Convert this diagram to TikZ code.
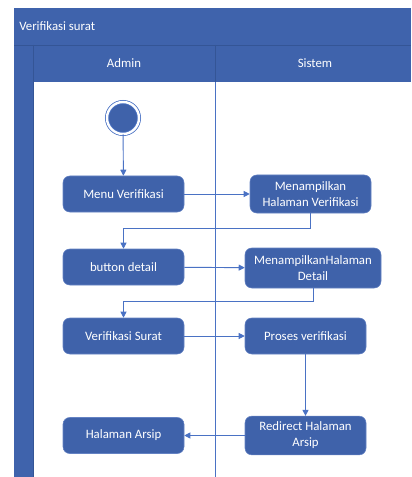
\documentclass[tikz,border=0pt]{standalone}
\usepackage{fontspec}
\setmainfont{Carlito}
\definecolor{laneblue}{RGB}{63,99,172}
\definecolor{lanedark}{RGB}{52,85,150}
\definecolor{actblue}{RGB}{63,98,170}
\definecolor{actedge}{RGB}{100,130,195}
\definecolor{flowblue}{RGB}{74,114,196}
\tikzset{
  act/.style={draw=actedge, fill=actblue, rounded corners=5pt, text=white, align=center,
    minimum width=90.75pt, minimum height=27pt, inner sep=1pt, font=\fontsize{9.6}{12}\selectfont},
  flow/.style={draw=flowblue, line width=0.7pt, -{Triangle[length=4.5pt,width=4.5pt]}},
  lanetext/.style={text=white, inner sep=0.75pt, font=\fontsize{9.6}{12}\selectfont},
}
\usetikzlibrary{arrows.meta}
\begin{document}
\begin{tikzpicture}[x=0.75pt,y=0.75pt,yscale=-1]
\useasboundingbox (0,0) rectangle (411,477);

%Shape: Rectangle [id:title band]
\fill [laneblue] (14,8) rectangle (411,45) ;
%Shape: Rectangle [id:column headers]
\fill [laneblue] (33,45) rectangle (411,82) ;
%Shape: Rectangle [id:left bar]
\fill [laneblue] (14,45) rectangle (33,477) ;
%Straight Lines [id:separators]
\draw [lanedark, line width=0.6pt] (14,45) -- (411,45) ;
\draw [lanedark, line width=0.6pt] (33,45) -- (33,477) ;
\draw [lanedark, line width=0.6pt] (215,45) -- (215,82) ;
%Straight Lines [id:lane divider]
\draw [flowblue, line width=0.7pt] (215,82) -- (215,477) ;

% Text Node
\draw (18,26) node [anchor=west] [lanetext] (title) {Verifikasi surat};
% Text Node
\draw (124,63) node [lanetext] (admin) {Admin};
% Text Node
\draw (315,63) node [lanetext] (sistem) {Sistem};

%Shape: Circle [id:start]
\draw (123,118) node [circle, fill=actblue, draw=flowblue, double=white, double distance=1.8pt,
  line width=0.6pt, minimum size=24pt, inner sep=0pt] (start) {} ;

%Shape: Rounded Rect [id:actions]
\draw (123.5,194) node [act] (menu) {Menu Verifikasi};
\draw (310.5,194) node [act, minimum height=28.5pt] (halver) {Menampilkan\\Halaman Verifikasi};
\draw (123.5,267) node [act] (detail) {button detail};
\draw (313,268) node [act, minimum width=102pt, minimum height=30pt] (haldet) {MenampilkanHalaman\\Detail};
\draw (123.5,336) node [act] (versurat) {Verifikasi Surat};
\draw (305.5,336) node [act] (proses) {Proses verifikasi};
\draw (305.5,435.5) node [act, minimum height=29pt] (redirect) {Redirect Halaman\\Arsip};
\draw (123.5,435.5) node [act] (arsip) {Halaman Arsip};

%Straight Lines [id:flows]
\draw [flow] (start) -- (menu) ;
\draw [flow] (menu) -- (halver) ;
\draw [flow] (halver.south) -- ++(0,15) -| (detail.north) ;
\draw [flow] (detail) -- (haldet) ;
\draw [flow] (haldet.south) -- ++(0,13) -| (versurat.north) ;
\draw [flow] (versurat) -- (proses) ;
\draw [flow] (proses) -- (redirect) ;
\draw [flow] (redirect) -- (arsip) ;

\end{tikzpicture}
\end{document}
